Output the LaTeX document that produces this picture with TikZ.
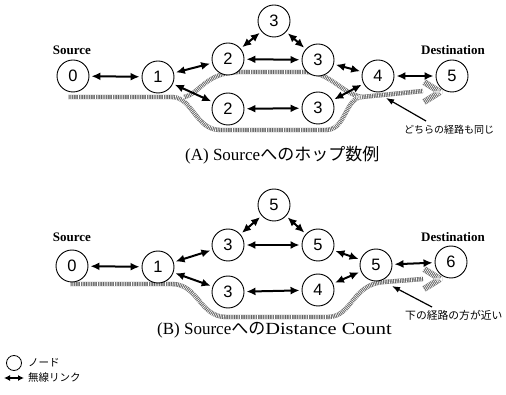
\documentclass[tikz,border=0pt]{standalone}
\usepackage{fontspec}
\setmainfont{Liberation Serif}
\newfontfamily\digitfont{Liberation Sans}
\newfontfamily\cjk{Noto Sans CJK JP}
\newfontfamily\widefont[FakeStretch=1.2]{Liberation Serif}
\usetikzlibrary{arrows.meta}
\begin{document}
\begin{tikzpicture}[x=1pt,y=-1pt,
  nd/.style={circle,draw,fill=white,line width=0.9pt,minimum size=32pt,inner sep=0pt,font=\digitfont\fontsize{16.5}{16}\selectfont},
  lnk/.style={{Latex[length=9pt,width=8pt]}-{Latex[length=9pt,width=8pt]},line width=2pt,shorten <=2pt,shorten >=2pt},
  band/.style={line width=4.4pt,black!62,line join=round},
  bandtex/.style={line width=4.4pt,white,dash pattern=on 0.6pt off 1.1pt,line join=round},
  ptr/.style={-{Latex[length=8pt,width=6pt]},line width=1.2pt},
  lbl/.style={font=\bfseries\fontsize{13}{13}\selectfont,inner sep=0pt},
  captxt/.style={font=\fontsize{17}{20}\selectfont,inner sep=0pt,anchor=west},
  note/.style={font=\cjk\fontsize{10}{10}\selectfont,inner sep=0pt,anchor=west}
]
\useasboundingbox (0,0) rectangle (506,395);

% ---------- hatched route bands (A) ----------
\foreach \s in {band,bandtex}{
  \draw[\s] (68,97) -- (172,97) .. controls (192,97) and (196,130) .. (220,130) -- (326,130) .. controls (346,130) and (345,98) .. (362,97) -- (423,91);
  \draw[\s] (184,97) .. controls (200,94) and (205,72) .. (240,72) -- (306,72) .. controls (330,72) and (342,94) .. (362,97);
  \draw[\s,line width=6pt] (424,82) -- (440,92) -- (424,102);
}
% ---------- hatched route band (B) ----------
\foreach \s in {band,bandtex}{
  \draw[\s] (70,284) -- (172,284) .. controls (198,284) and (200,317) .. (226,317) -- (328,317) .. controls (352,317) and (352,284) .. (384,282) -- (423,279);
  \draw[\s,line width=6pt] (424,269) -- (440,279) -- (424,289);
}

% ---------- nodes (A) ----------
\node[nd] (a0) at (73,76) {0};
\node[nd] (a1) at (158,77) {1};
\node[nd] (a2u) at (228,59) {2};
\node[nd] (a3t) at (274,21) {3};
\node[nd] (a3m) at (318,60) {3};
\node[nd] (a4) at (378,76) {4};
\node[nd] (a5) at (452,76) {5};
\node[nd] (a2l) at (228,109) {2};
\node[nd] (a3l) at (318,108) {3};
\node[lbl] (asrc) at (72,50) {Source};
\node[lbl] (adst) at (453,50) {Destination};

\draw[lnk] (a0) -- (a1);
\draw[lnk] (a1) -- (a2u);
\draw[lnk] (a1) -- (a2l);
\draw[lnk] (a2u) -- (a3t);
\draw[lnk] (a2u) -- (a3m);
\draw[lnk] (a3t) -- (a3m);
\draw[lnk] (a3m) -- (a4);
\draw[lnk] (a2l) -- (a3l);
\draw[lnk] (a3l) -- (a4);
\draw[lnk] (a4) -- (a5);

\coordinate (atip) at (386,98);
\node[note] (anote) at (404,130) {どちらの経路も同じ};
\coordinate (atail) at (426,121);
\draw[ptr] (atail) -- (atip);

\node[captxt] (acap) at (185,155) {(A) Source{\cjk へのホップ数例}};

% ---------- nodes (B) ----------
\node[nd] (b0) at (72,266) {0};
\node[nd] (b1) at (158,267) {1};
\node[nd] (b3u) at (228,245) {3};
\node[nd] (b3l) at (228,292) {3};
\node[nd] (b5t) at (274,205) {5};
\node[nd] (b5m) at (318,245) {5};
\node[nd] (b5r) at (376,265) {5};
\node[nd] (b6) at (451,262) {6};
\node[nd] (b4) at (318,290) {4};
\node[lbl] (bsrc) at (72,237) {Source};
\node[lbl] (bdst) at (453,237) {Destination};

\draw[lnk] (b0) -- (b1);
\draw[lnk] (b1) -- (b3u);
\draw[lnk] (b1) -- (b3l);
\draw[lnk] (b3u) -- (b5t);
\draw[lnk] (b3u) -- (b5m);
\draw[lnk] (b5t) -- (b5m);
\draw[lnk] (b5m) -- (b5r);
\draw[lnk] (b3l) -- (b4);
\draw[lnk] (b4) -- (b5r);
\draw[lnk] (b5r) -- (b6);

\coordinate (btip) at (392,286);
\node[note,font=\cjk\fontsize{10.8}{11}\selectfont] (bnote) at (405,315) {下の経路の方が近い};
\coordinate (btail) at (432,307);
\draw[ptr] (btail) -- (btip);

\node[captxt] (bcap) at (157,330) {(B) Source{\cjk への}{\widefont Distance Count}};

% ---------- legend ----------
\node[circle,draw,line width=0.8pt,minimum size=15pt,inner sep=0pt] (lgc) at (14,363) {};
\node[note,font=\cjk\fontsize{10.5}{11}\selectfont] (lgt1) at (28,363) {ノード};
\coordinate (lga) at (4,378);
\coordinate (lgb) at (24,378);
\draw[{Latex[length=6pt,width=6pt]}-{Latex[length=6pt,width=6pt]},line width=1.6pt] (lga) -- (lgb);
\node[note,font=\cjk\fontsize{10.5}{11}\selectfont] (lgt2) at (28,378) {無線リンク};
\end{tikzpicture}
\end{document}
